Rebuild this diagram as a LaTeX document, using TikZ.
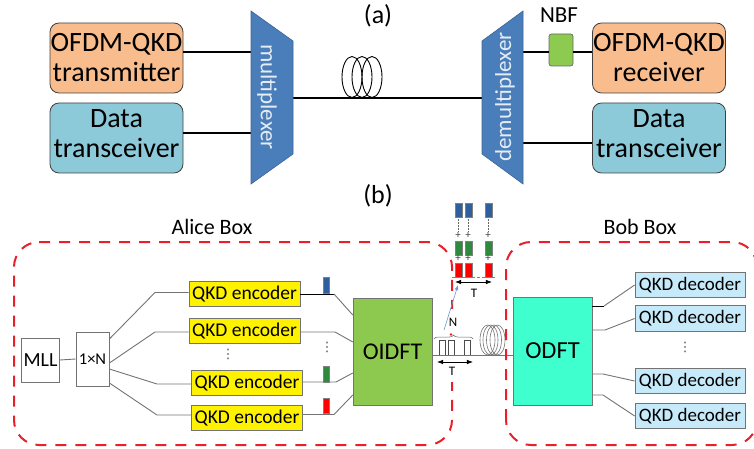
\documentclass[tikz,border=0pt]{standalone}
\usepackage{fontspec}
\setmainfont{Carlito}
\newfontfamily\symfont{DejaVu Sans}
\usetikzlibrary{arrows.meta,decorations.pathreplacing}
\definecolor{orangebox}{HTML}{F9BC8C}
\definecolor{tealbox}{HTML}{8CC9D9}
\definecolor{muxblue}{HTML}{4A7EBB}
\definecolor{nbfgreen}{HTML}{8CCB50}
\definecolor{oidft}{HTML}{8EC94F}
\definecolor{odft}{HTML}{3FFFCF}
\definecolor{decblue}{HTML}{C6EAF9}
\definecolor{boxred}{HTML}{E8202A}
\definecolor{pblue}{HTML}{2F5F9E}
\definecolor{pgreen}{HTML}{2E8B3D}
\tikzset{x=1pt,y=-1pt,
 bigbox/.style={draw=black!75,rounded corners=9pt,line width=0.8pt,minimum width=133pt,minimum height=70pt,inner sep=0pt,align=center,font=\fontsize{28}{30}\selectfont},
 mux/.style={fill=muxblue,draw=muxblue!80!black,line width=0.6pt},
 muxlabel/.style={text=white!85!muxblue,rotate=-90,font=\fontsize{23}{24}\selectfont},
 wire/.style={line width=1.1pt,black},
 fibre/.style={line width=0.9pt,black!55},
 enc/.style={draw=black!55,fill=yellow,line width=0.8pt,minimum width=111pt,minimum height=25pt,inner sep=0pt,font=\fontsize{19.5}{20}\selectfont},
 dec/.style={draw=black!55,fill=decblue,line width=0.8pt,minimum width=110pt,minimum height=25.5pt,inner sep=0pt,font=\fontsize{19}{20}\selectfont},
 plain/.style={draw=black!55,fill=white,line width=0.8pt,inner sep=0pt},
 dashbox/.style={draw=boxred,line width=2pt,dash pattern=on 11pt off 9pt,rounded corners=25pt},
 lab/.style={font=\fontsize{22}{24}\selectfont},
 letter/.style={font=\fontsize{26}{28}\selectfont},
 small/.style={font=\fontsize{13}{14}\selectfont},
 dotlab/.style={font=\symfont\fontsize{13}{14}\selectfont,text=black!70},
 plus/.style={font=\fontsize{11}{12}\selectfont,text=black!75,inner sep=0pt},
 pulse/.style={line width=0.7pt,black!70},
 vd/.style={line width=1pt,dash pattern=on 1.5pt off 1.5pt,black!60}
}
\begin{document}
\begin{tikzpicture}
\useasboundingbox (0,0) rectangle (754,449);
% (a)
\node[bigbox,fill=orangebox] (tx) at (116.5,58) {OFDM-QKD\\transmitter};
\node[bigbox,fill=tealbox] (dl) at (116.5,138) {Data\\transceiver\rule[-8pt]{0pt}{0pt}};
\node[bigbox,fill=orangebox] (rx) at (659,58) {OFDM-QKD\\receiver};
\node[bigbox,fill=tealbox] (dr) at (659,138) {Data\\transceiver\rule[-8pt]{0pt}{0pt}};
\coordinate (muxA) at (251,52);
\coordinate (muxB) at (251,133);
\coordinate (muxC) at (293,98);
\coordinate (demA) at (523,52);
\coordinate (demB) at (523,143);
\coordinate (demC) at (482,98);
\node[draw=black!60,fill=nbfgreen,rounded corners=2.5pt,minimum width=24pt,minimum height=32pt,inner sep=0pt,line width=0.7pt] (nbf) at (561,50) {};
\draw[wire] (tx.east |- muxA) -- (muxA);
\draw[wire] (dl.east |- muxB) -- (muxB);
\draw[wire] (demA) -- (nbf.west |- demA);
\draw[wire] (nbf.east |- demA) -- (rx.west |- demA);
\draw[wire] (demB) -- (dr.west |- demB);
\draw[wire] (muxC) -- (demC);
\foreach \cx in {352,362,372}
  \draw[line width=0.9pt,black] (\cx,77) ellipse (10pt and 20.5pt);
\fill[mux] (251,11) -- (293,41) -- (293,154) -- (251,184) -- cycle;
\fill[mux] (523,11) -- (482,41) -- (482,154) -- (523,184) -- cycle;
\node[muxlabel] (mx) at (267,97) {multiplexer};
\node[muxlabel,rotate=180] (dx) at (505,97) {demultiplexer};
\node[letter] (la) at (378,16) {(a)};
\node[letter] (lb) at (378,196) {(b)};
\node[font=\fontsize{23}{24}\selectfont] (ln) at (559,15) {NBF};
% (b) boxes
\draw[dashbox] (14,242) -- (452,242) -- (452,445) -- (14,445) -- cycle;
\fill[white] (446,309) rectangle (458,382);
\fill[boxred] (451,334.5) circle (1.3pt);
\node[lab] (alice) at (212,227) {Alice Box};
\node[lab] (bob) at (640,227) {Bob Box};
\node[plain,minimum width=38pt,minimum height=44pt,font=\fontsize{20}{22}\selectfont] (mll) at (40.5,360) {MLL};
\node[plain,minimum width=33pt,minimum height=54pt,font=\fontsize{16.5}{18}\selectfont] (sp) at (92.5,359) {1×N};
\node[enc] (e1) at (244.5,294) {QKD encoder};
\node[enc] (e2) at (244.5,331) {QKD encoder};
\node[enc] (e3) at (247,383) {QKD encoder};
\node[enc] (e4) at (247,418) {QKD encoder};
\node[draw=black!55,fill=oidft,minimum width=79pt,minimum height=107pt,inner sep=0pt,font=\fontsize{24}{26}\selectfont] (oi) at (392.5,351.5) {OIDFT};
\node[draw=black!55,fill=odft,minimum width=79pt,minimum height=108pt,inner sep=0pt,font=\fontsize{24.5}{26}\selectfont] (od) at (552.5,351) {ODFT};
\node[dec] (d1) at (690,285) {QKD decoder};
\node[dec] (d2) at (690,318.5) {QKD decoder};
\node[dec] (d3) at (690,381) {QKD decoder};
\node[dec] (d4) at (690,416) {QKD decoder};
\draw[fibre] (mll.east) -- (sp.west);
\draw[fibre] (sp.east |- 0,339) -- (155,292.5) -- (e1.west |- 0,292.5);
\draw[fibre] (sp.east |- 0,363) -- (155,332) -- (e2.west |- 0,332);
\draw[fibre] (sp.east |- 0,369) -- (157,384) -- (e3.west |- 0,384);
\draw[fibre] (sp.east |- 0,383) -- (157,415) -- (e4.west |- 0,415);
\draw[wire,line width=0.9pt] (e1.east) -- (334,294);
\draw[fibre] (334,294) -- (oi.west |- 0,315);
\draw[fibre] (e2.east |- 0,332) -- (335,332) -- (oi.west |- 0,342);
\draw[fibre] (e3.east |- 0,382) -- (336,382) -- (oi.west |- 0,373);
\draw[fibre] (e4.east |- 0,414.5) -- (334,414.5) -- (oi.west |- 0,395);
\draw[wire,line width=0.9pt] (od.east |- 0,306) -- (604,306);
\draw[fibre] (604,306) -- (d1.west);
\draw[fibre] (od.east |- 0,330) -- (605,330) -- (d2.west);
\draw[fibre] (od.east |- 0,374) -- (603,374) -- (d3.west);
\draw[fibre] (od.east |- 0,395) -- (603,395) -- (d4.west);
\draw[fibre,line width=1pt] (oi.east |- 0,355) -- (od.west |- 0,355);
% encoder pulses
\draw[draw=black!50,fill=pblue,line width=0.3pt] (323,277) rectangle (329.5,293);
\draw[draw=black!50,fill=pgreen,line width=0.3pt] (323,366) rectangle (329.5,382);
\draw[draw=black!50,fill=red,line width=0.3pt] (323,398) rectangle (329,413);
\node[dotlab] (dotsA) at (228,354) {⋮};
\node[dotlab] (dotsB) at (327,347) {⋮};
\node[dotlab] (dotsC) at (685,347) {⋮};
% output pulses
\foreach \px in {0,10,30}{
  \draw[draw=black!50,fill=pblue,line width=0.3pt] (455.5+\px,203) rectangle (462+\px,217);
  \draw[vd] (458.5+\px,219) -- (458.5+\px,232);
  \draw[draw=black!50,fill=pgreen,line width=0.3pt] (455.5+\px,241) rectangle (462+\px,255);
  \draw[draw=black!50,fill=red,line width=0.3pt] (455.5+\px,263) rectangle (462+\px,277);
  \node[plus] at (458+\px,235) {+};
  \node[plus] at (458+\px,258) {+};
}
\draw[black!50,line width=0.5pt,densely dashed] (452,277.5) -- (497,277.5);
\draw[Latex-Latex,line width=0.7pt] (455,282) -- (492,282);
\node[small] (t1) at (474,293) {T};
% pulses on fibre
\foreach \px in {439,448,464}
  \draw[pulse] (\px,355) -- (\px,340) -- (\px+6,340) -- (\px+6,355);
\draw[decorate,decoration={brace,amplitude=4pt},black!60,line width=0.5pt] (434,339) -- (473,339);
\draw[-{Latex[length=5pt]},muxblue!80!white,line width=0.6pt] (444,330) -- (458,285);
\node[small] (nn) at (453,322) {N};
\draw[Latex-Latex,line width=0.7pt] (437,362) -- (473,362);
\node[small] (t2) at (452,371) {T};
\foreach \cx in {487.5,490.5,494,497.5}
  \draw[black!55,line width=0.6pt] (\cx,340) ellipse (7.5pt and 15pt);
\draw[dashbox] (506,445) -- (506,242) -- (757,242) -- (757,445) -- cycle;
\end{tikzpicture}
\end{document}
